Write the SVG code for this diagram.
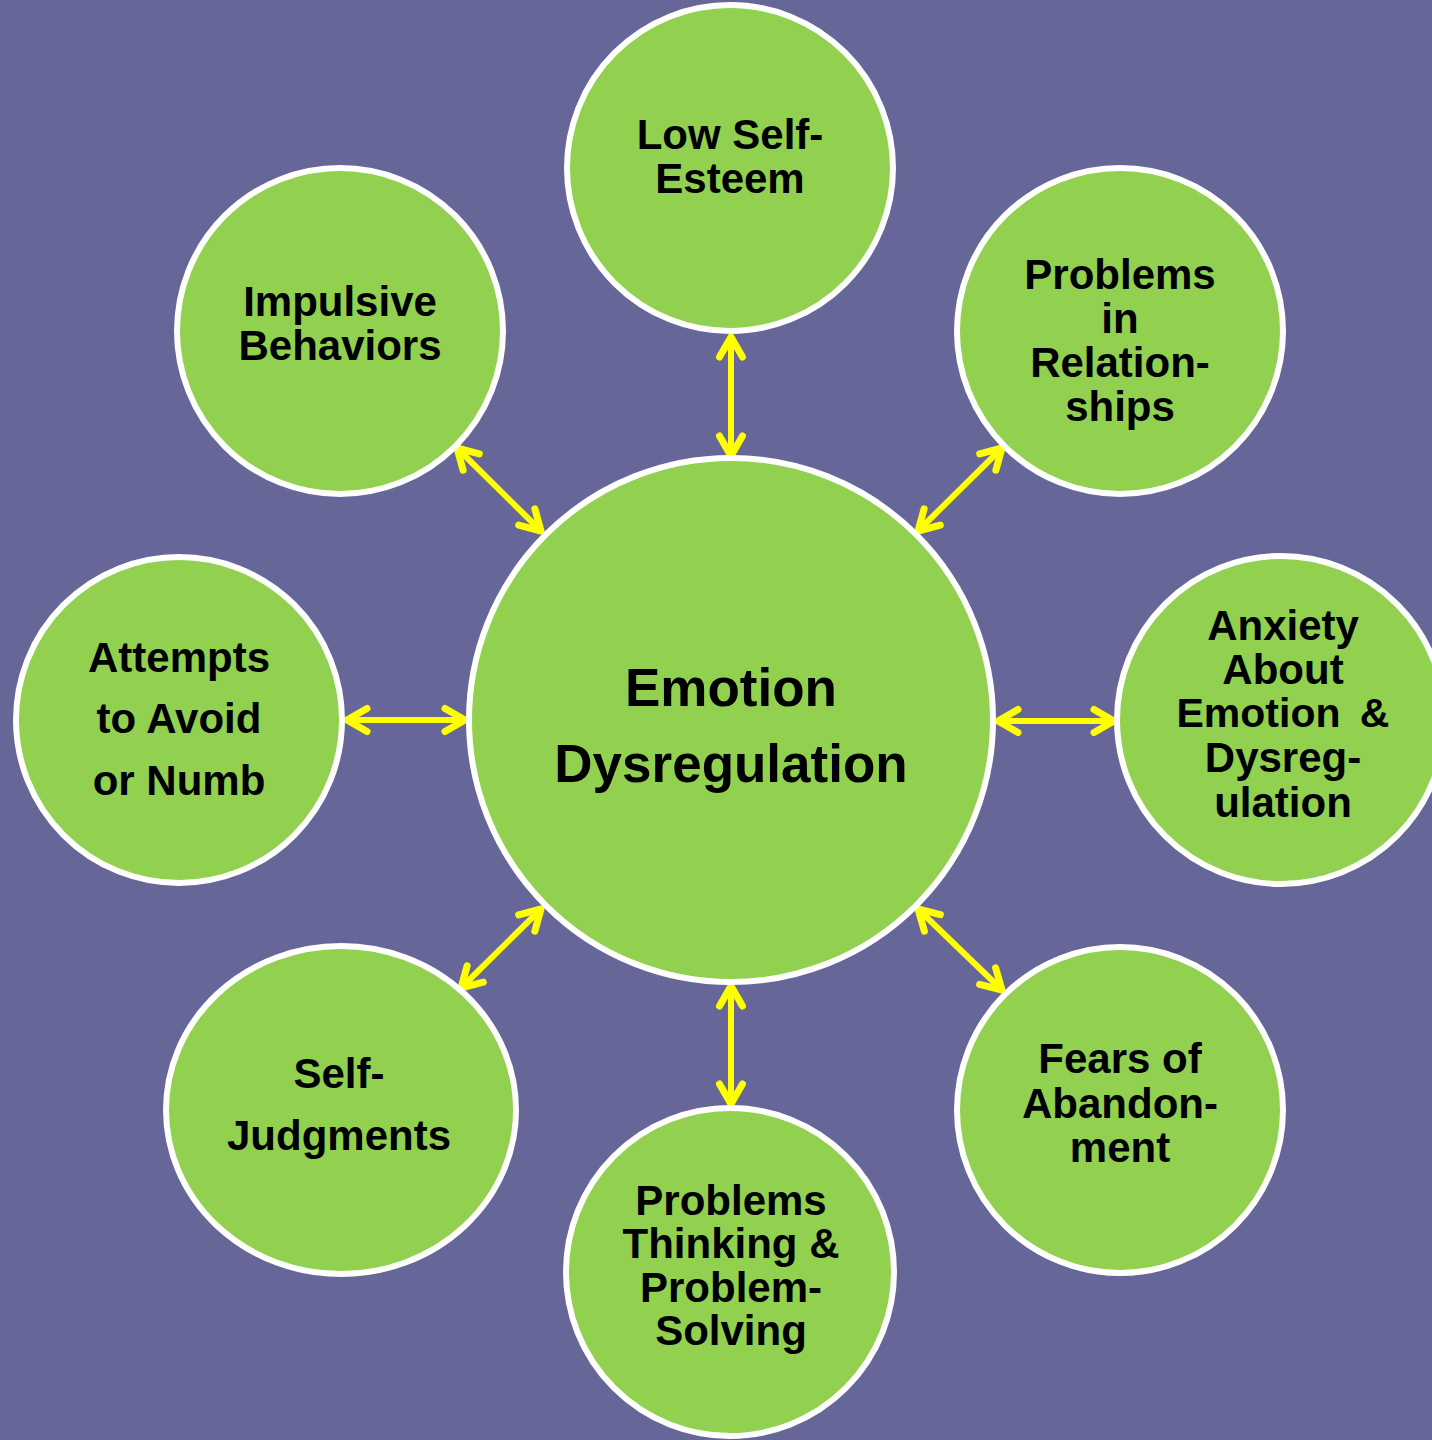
<svg xmlns="http://www.w3.org/2000/svg" width="1432" height="1440" viewBox="0 0 1432 1440">
<style>
.node{fill:#92D050;stroke:#FFFFFF;stroke-width:6}
.t{font-family:"Liberation Sans",Arial,sans-serif;font-weight:bold;font-size:42px;fill:#000;text-anchor:middle}
.big{font-size:53px}
.c{stroke:#FFFF00;stroke-width:6;fill:none}
</style>
<defs>
<marker id="ah" markerUnits="userSpaceOnUse" markerWidth="40" markerHeight="40" viewBox="-30 -20 40 40" refX="0" refY="0" orient="auto-start-reverse" overflow="visible">
<path d="M -20,-11.5 L 0,0 L -20,11.5" fill="none" stroke="#FFFF00" stroke-width="7" stroke-linecap="round" stroke-linejoin="round"/>
</marker>
</defs>
<rect width="1432" height="1440" fill="#666699"/>
<g id="connectors">
<line class="c" x1="731" y1="337" x2="731" y2="456" marker-start="url(#ah)" marker-end="url(#ah)"/>
<line class="c" x1="731" y1="986" x2="731" y2="1104" marker-start="url(#ah)" marker-end="url(#ah)"/>
<line class="c" x1="347" y1="720" x2="465" y2="720" marker-start="url(#ah)" marker-end="url(#ah)"/>
<line class="c" x1="998" y1="721" x2="1114" y2="721" marker-start="url(#ah)" marker-end="url(#ah)"/>
<line class="c" x1="457" y1="448" x2="541" y2="531" marker-start="url(#ah)" marker-end="url(#ah)"/>
<line class="c" x1="1002" y1="448" x2="918" y2="531" marker-start="url(#ah)" marker-end="url(#ah)"/>
<line class="c" x1="541" y1="909" x2="461" y2="988" marker-start="url(#ah)" marker-end="url(#ah)"/>
<line class="c" x1="918" y1="909" x2="1002" y2="990" marker-start="url(#ah)" marker-end="url(#ah)"/>
</g>
<g id="center">
<circle class="node" cx="731" cy="720" r="262"/>
<text class="t big" x="731" y="706">Emotion</text>
<text class="t big" x="731" y="782">Dysregulation</text>
</g>
<g id="low-self-esteem">
<circle class="node" cx="730" cy="168" r="163"/>
<text class="t" x="730" y="149">Low Self-</text>
<text class="t" x="730" y="193">Esteem</text>
</g>
<g id="relationships">
<circle class="node" cx="1120" cy="331" r="163"/>
<text class="t" x="1120" y="289">Problems</text>
<text class="t" x="1120" y="333">in</text>
<text class="t" x="1120" y="377">Relation-</text>
<text class="t" x="1120" y="421">ships</text>
</g>
<g id="anxiety">
<circle class="node" cx="1281" cy="720" r="164"/>
<text class="t" x="1283" y="640">Anxiety</text>
<text class="t" x="1283" y="684">About</text>
<text class="t" x="1283" y="727" style="font-size:41px;word-spacing:8px">Emotion &amp;</text>
<text class="t" x="1283" y="772">Dysreg-</text>
<text class="t" x="1283" y="817">ulation</text>
</g>
<g id="abandonment">
<circle class="node" cx="1120" cy="1110" r="163"/>
<text class="t" x="1120" y="1073">Fears of</text>
<text class="t" x="1120" y="1118">Abandon-</text>
<text class="t" x="1120" y="1162">ment</text>
</g>
<g id="thinking">
<circle class="node" cx="730" cy="1272" r="164"/>
<text class="t" x="731" y="1215">Problems</text>
<text class="t" x="731" y="1258">Thinking &amp;</text>
<text class="t" x="731" y="1302">Problem-</text>
<text class="t" x="731" y="1345">Solving</text>
</g>
<g id="self-judgments">
<ellipse class="node" cx="341" cy="1110" rx="175" ry="164"/>
<text class="t" x="339" y="1088">Self-</text>
<text class="t" x="339" y="1150">Judgments</text>
</g>
<g id="attempts">
<circle class="node" cx="179" cy="720" r="163"/>
<text class="t" x="179" y="672">Attempts</text>
<text class="t" x="179" y="733">to Avoid</text>
<text class="t" x="179" y="795">or Numb</text>
</g>
<g id="impulsive">
<circle class="node" cx="340" cy="331" r="163"/>
<text class="t" x="340" y="316">Impulsive</text>
<text class="t" x="340" y="360">Behaviors</text>
</g>
</svg>
